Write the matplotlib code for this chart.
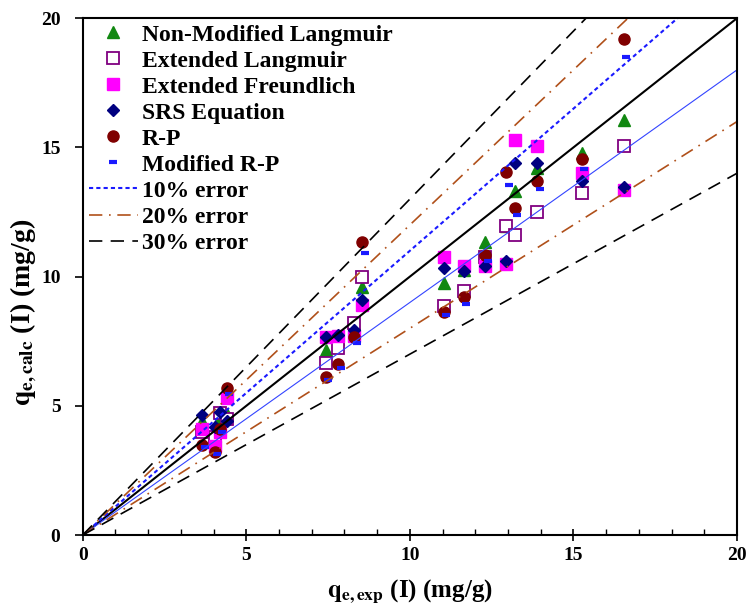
import matplotlib.pyplot as plt
import numpy as np

plt.rcParams['font.family'] = ['Liberation Serif', 'DejaVu Serif']
plt.rcParams['font.weight'] = 'bold'
plt.rcParams['mathtext.fontset'] = 'stix'

# experimental q_e (x axis), shared by all models
q_exp = [3.65, 4.05, 4.2, 4.4, 7.45, 7.8, 8.3, 8.55,
         11.05, 11.65, 12.3, 12.95, 13.2, 13.9, 15.25, 16.55]
q_exp_mrp = [3.75, 4.12, 4.27, 4.48, 7.5, 7.9, 8.38, 8.62,
             11.12, 11.72, 12.38, 13.03, 13.27, 13.98, 15.32, 16.62]

non_mod_langmuir = [4.4, 3.85, 4.55, 4.7, 7.15, 7.6, 8.15, 9.6,
                    9.75, 10.25, 11.35, 11.95, 13.3, 14.2, 14.8, 16.05]
ext_langmuir = [4.0, 3.8, 4.72, 4.5, 6.65, 7.25, 8.2, 10.0,
                8.85, 9.45, 10.75, 11.95, 11.6, 12.5, 13.25, 15.05]
ext_freundlich = [4.1, 3.45, 4.0, 5.3, 7.65, 7.7, 7.7, 8.9,
                  10.75, 10.4, 10.4, 10.5, 15.3, 15.05, 14.0, 13.35]
srs = [4.65, 4.2, 4.75, 4.4, 7.65, 7.75, 7.95, 9.1,
       10.35, 10.2, 10.4, 10.6, 14.4, 14.4, 13.7, 13.45]
r_p = [3.5, 3.2, 4.1, 5.7, 6.1, 6.6, 7.65, 11.35,
       8.65, 9.2, 10.85, 14.05, 12.65, 13.7, 14.55, 19.2]
mod_r_p = [3.4, 3.15, 4.0, 5.45, 6.0, 6.45, 7.45, 10.9,
           8.5, 8.95, 10.6, 13.55, 12.4, 13.4, 14.15, 18.5]

fig = plt.figure(figsize=(7.52, 6.08), dpi=100)
ax = fig.add_axes([0.110, 0.120, 0.870, 0.850])

# points
ax.plot(q_exp, non_mod_langmuir, '^', color='#118811', ms=8, ls='none',
        label='Non-Modified Langmuir')
ax.plot(q_exp, ext_langmuir, 's', mfc='white', mec='#800080', mew=1.3, ms=8,
        ls='none', label='Extended Langmuir')
ax.plot(q_exp, ext_freundlich, 's', color='#FF00FF', ms=8, ls='none',
        label='Extended Freundlich')
ax.plot(q_exp, srs, 'D', color='#000080', ms=6, ls='none', label='SRS Equation')
ax.plot(q_exp, r_p, 'o', color='#800000', ms=8, ls='none', label='R-P')
ax.plot(q_exp_mrp, mod_r_p, '_', color='#1a1aff', ms=6, mew=3, ls='none',
        label='Modified R-P')
ax.plot([0], [0], '+', color='teal', ms=6)

# error lines
xl = np.array([0, 20])
ax.plot(xl, xl, color='black', lw=1.5)
ax.plot(xl, 1.1 * xl, color='#1a1aff', lw=1.5, ls=(0, (2, 1.5)), label='10% error')
ax.plot(xl, 0.9 * xl, color='#3344ff', lw=0.8)
ax.plot(xl, 1.2 * xl, color='#b0501a', lw=1.2, ls=(0, (8, 4, 1, 4)), label='20% error')
ax.plot(xl, 0.8 * xl, color='#b0501a', lw=1.2, ls=(0, (8, 4, 1, 4)))
ax.plot(xl, 1.3 * xl, color='black', lw=1.2, ls=(0, (8, 5)), label='30% error')
ax.plot(xl, 0.7 * xl, color='black', lw=1.2, ls=(0, (8, 5)))

ax.set_xlim(0, 20)
ax.set_ylim(0, 20)
ax.set_xticks([0, 5, 10, 15, 20])
ax.set_yticks([0, 5, 10, 15, 20])
ax.set_xticks(np.arange(0, 21, 1), minor=True)
ax.tick_params(axis='x', which='major', direction='inout', length=9, width=1.2,
               labelsize=14, pad=4)
ax.tick_params(axis='x', which='minor', direction='in', length=4, width=1)
ax.tick_params(axis='y', which='major', direction='out', length=6, width=1.2,
               labelsize=14, pad=10)
for lab in ax.get_xticklabels() + ax.get_yticklabels():
    lab.set_fontweight('bold')
for s in ax.spines.values():
    s.set_linewidth(1.5)

ax.set_xlabel(r'$\mathbf{q_{e,exp}}$ (I) (mg/g)', fontsize=18, fontweight='bold',
              labelpad=10)
ax.set_ylabel(r'$\mathbf{q_{e,calc}}$ (I) (mg/g)', fontsize=20, fontweight='bold')
ax.yaxis.set_label_coords(-0.065, 0.43)

ax.legend(loc='upper left', bbox_to_anchor=(0.0, 1.0), frameon=False,
          prop={'family': 'Liberation Serif', 'weight': 'bold', 'size': 17},
          handlelength=2.1, handletextpad=0.15, labelspacing=0.19,
          borderaxespad=0.15, borderpad=0.1)

plt.savefig('out.png', dpi=100)
